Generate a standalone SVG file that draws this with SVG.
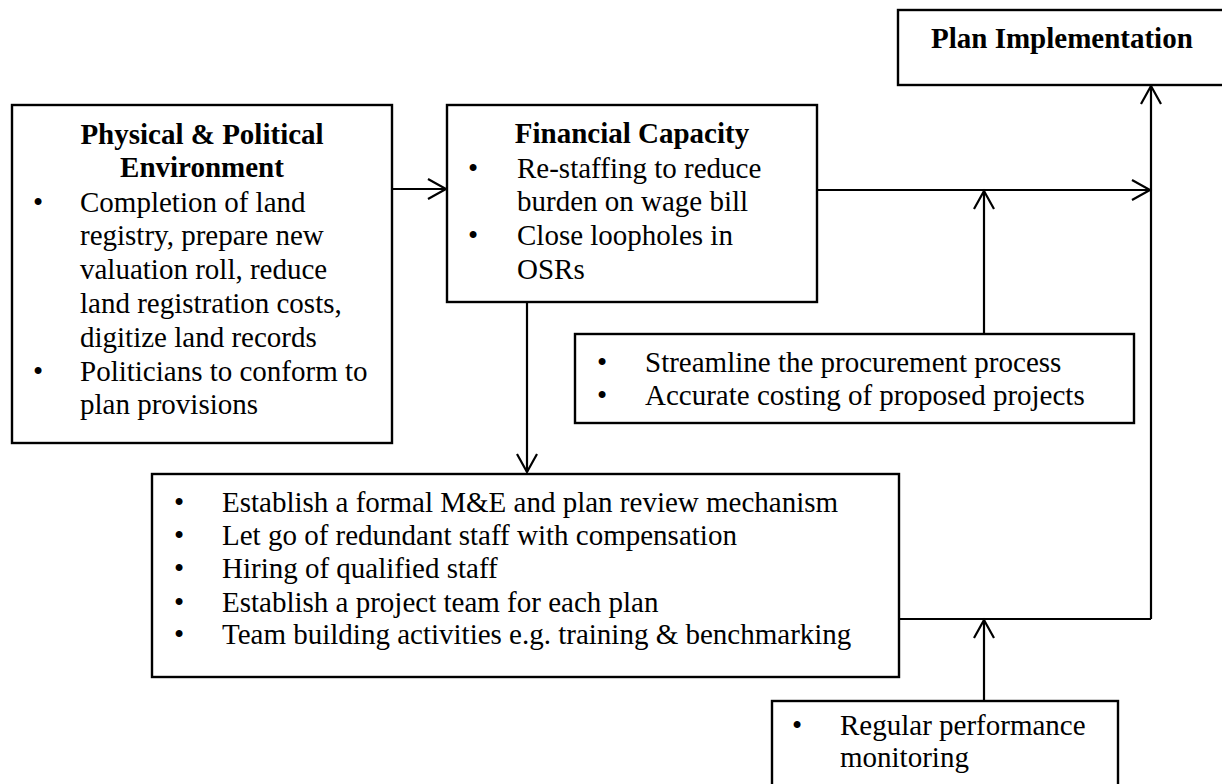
<svg xmlns="http://www.w3.org/2000/svg" width="1222" height="784" viewBox="0 0 1222 784">
  <style>
    .box { fill: #ffffff; stroke: #000000; stroke-width: 2.4; }
    .t { font-size: 29px; fill: #000000; }
    .b { font-weight: bold; }
    .link { fill: none; stroke: #000000; stroke-width: 2.2; }
  </style>
  <defs>
    <marker id="arrow" markerUnits="userSpaceOnUse" markerWidth="24" markerHeight="24" viewBox="-20 -12 24 24" refX="0" refY="0" orient="auto" overflow="visible">
      <path d="M -18 -10 L 0 0 L -18 10" fill="none" stroke="#000000" stroke-width="2.2"/>
    </marker>
  </defs>
  <rect width="1222" height="784" fill="#ffffff"/>

  <!-- connectors -->
  <g id="connectors">
    <line class="link" x1="392" y1="189" x2="446" y2="189" marker-end="url(#arrow)"/>
    <line class="link" x1="817" y1="190" x2="1150" y2="190" marker-end="url(#arrow)"/>
    <line class="link" x1="1151" y1="619" x2="1151" y2="86" marker-end="url(#arrow)"/>
    <line class="link" x1="984" y1="334" x2="984" y2="191" marker-end="url(#arrow)"/>
    <line class="link" x1="527" y1="302" x2="527" y2="472" marker-end="url(#arrow)"/>
    <line class="link" x1="900" y1="619" x2="1151" y2="619"/>
    <line class="link" x1="984" y1="701" x2="984" y2="620" marker-end="url(#arrow)"/>
  </g>

  <g font-family="'Liberation Serif', 'Times New Roman', 'DejaVu Serif', serif">
    <!-- Plan Implementation -->
    <g id="plan-implementation">
      <rect class="box" x="898" y="10" width="340" height="75"/>
      <text class="t b" x="931" y="48">Plan Implementation</text>
    </g>

    <!-- Physical & Political Environment -->
    <g id="physical-political">
      <rect class="box" x="12" y="105" width="380" height="338"/>
      <text class="t b" x="202" y="144" text-anchor="middle">Physical &amp; Political</text>
      <text class="t b" x="202" y="177" text-anchor="middle">Environment</text>
      <text class="t" x="33" y="211.5">•</text>
      <text class="t" x="80" y="211.5">Completion of land</text>
      <text class="t" x="80" y="245.3">registry, prepare new</text>
      <text class="t" x="80" y="279">valuation roll, reduce</text>
      <text class="t" x="80" y="312.8">land registration costs,</text>
      <text class="t" x="80" y="346.6">digitize land records</text>
      <text class="t" x="33" y="380.5">•</text>
      <text class="t" x="80" y="380.5">Politicians to conform to</text>
      <text class="t" x="80" y="414.3">plan provisions</text>
    </g>

    <!-- Financial Capacity -->
    <g id="financial-capacity">
      <rect class="box" x="447" y="105" width="370" height="197"/>
      <text class="t b" x="632" y="143" text-anchor="middle">Financial Capacity</text>
      <text class="t" x="468" y="177.5">•</text>
      <text class="t" x="517" y="177.5">Re-staffing to reduce</text>
      <text class="t" x="517" y="210.8">burden on wage bill</text>
      <text class="t" x="468" y="245.2">•</text>
      <text class="t" x="517" y="245.2">Close loopholes in</text>
      <text class="t" x="517" y="279">OSRs</text>
    </g>

    <!-- Procurement and costing -->
    <g id="procurement">
      <rect class="box" x="575" y="334" width="559" height="89"/>
      <text class="t" x="597" y="372">•</text>
      <text class="t" x="645" y="372">Streamline the procurement process</text>
      <text class="t" x="597" y="405">•</text>
      <text class="t" x="645" y="405">Accurate costing of proposed projects</text>
    </g>

    <!-- Staffing and review measures -->
    <g id="staffing-review">
      <rect class="box" x="152" y="474" width="747" height="203"/>
      <text class="t" x="174" y="511.7">•</text>
      <text class="t" x="222" y="511.7">Establish a formal M&amp;E and plan review mechanism</text>
      <text class="t" x="174" y="545">•</text>
      <text class="t" x="222" y="545">Let go of redundant staff with compensation</text>
      <text class="t" x="174" y="578.3">•</text>
      <text class="t" x="222" y="578.3">Hiring of qualified staff</text>
      <text class="t" x="174" y="611.7">•</text>
      <text class="t" x="222" y="611.7">Establish a project team for each plan</text>
      <text class="t" x="174" y="643.5">•</text>
      <text class="t" x="222" y="643.5">Team building activities e.g. training &amp; benchmarking</text>
    </g>

    <!-- Performance monitoring -->
    <g id="performance-monitoring">
      <rect class="box" x="772" y="701" width="346" height="110"/>
      <text class="t" x="792" y="735">•</text>
      <text class="t" x="840" y="735">Regular performance</text>
      <text class="t" x="840" y="767">monitoring</text>
    </g>
  </g>
</svg>
